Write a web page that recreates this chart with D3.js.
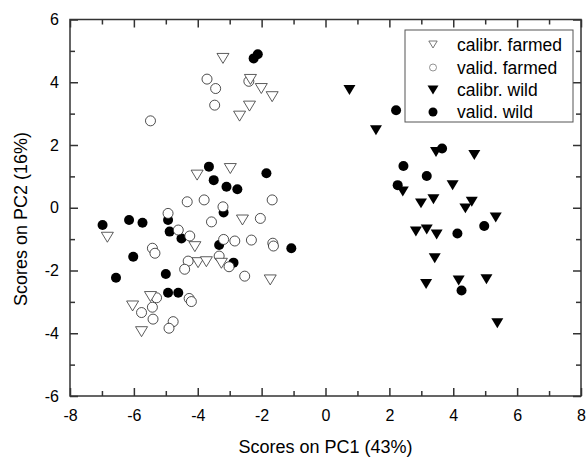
<!DOCTYPE html>
<html>
<head>
<meta charset="utf-8">
<script src="https://cdn.jsdelivr.net/npm/d3@7"></script>
<style>
  body { margin: 0; background: #fff; }
  text { font-family: Arial, "Liberation Sans", sans-serif; fill: #000; }
</style>
</head>
<body>
<div id="chart"></div>
<script>
// PCA scores: [PC1, PC2]
const calibrFarmed = [
  [-3.21, 4.76], [-2.35, 4.09], [-2.01, 3.80], [-1.67, 3.54], [-2.38, 3.24], [-2.69, 2.92],
  [-4.02, 1.04], [-2.98, 1.25], [-2.60, -0.39], [-6.83, -0.94], [-4.09, -1.24], [-3.99, -1.75],
  [-3.73, -1.72], [-3.26, -1.77], [-1.73, -2.30], [-6.04, -3.13], [-5.48, -2.83], [-5.76, -3.95]
];
const validFarmed = [
  [-3.71, 4.10], [-3.44, 3.80], [-3.47, 3.27], [-5.48, 2.77], [-2.40, 4.03], [-4.33, 0.19],
  [-3.80, 0.25], [-3.21, 0.03], [-1.67, 0.25], [-3.57, -0.45], [-2.04, -0.34], [-4.93, -0.18],
  [-5.42, -1.29], [-5.34, -1.45], [-4.61, -0.71], [-4.25, -0.90], [-3.19, -1.01], [-2.84, -1.06],
  [-2.32, -1.03], [-1.65, -1.13], [-1.63, -1.22], [-3.33, -1.54], [-4.30, -1.70], [-3.02, -1.88],
  [-4.41, -1.96], [-2.53, -2.18], [-4.27, -2.89], [-4.20, -2.99], [-5.29, -2.87], [-5.42, -3.17],
  [-5.76, -3.34], [-5.40, -3.55], [-4.77, -3.63], [-4.90, -3.84]
];
const calibrWild = [
  [0.75, 3.75], [1.58, 2.47], [3.46, 1.78], [4.66, 1.68], [3.98, 0.72], [2.42, 0.52],
  [2.99, 0.14], [3.38, 0.27], [4.38, -0.02], [4.58, 0.19], [5.33, -0.31], [2.83, -0.76],
  [3.17, -0.69], [3.48, -0.85], [3.42, -1.61], [3.15, -2.43], [4.17, -2.32], [5.04, -2.28],
  [5.38, -3.68]
];
const validWild = [
  [-2.25, 4.76], [-2.12, 4.89], [-3.65, 1.31], [-3.50, 0.88], [-3.10, 0.67], [-2.76, 0.59],
  [-1.85, 1.10], [-3.19, -0.15], [-4.93, -0.39], [-6.98, -0.55], [-6.15, -0.39], [-5.73, -0.48],
  [-6.02, -1.56], [-6.56, -2.23], [-4.88, -0.76], [-4.51, -0.98], [-3.33, -1.19], [-1.07, -1.29],
  [-2.88, -1.75], [-5.00, -2.11], [-4.93, -2.71], [-4.61, -2.71], [2.21, 3.11], [3.65, 1.89],
  [2.44, 1.33], [3.17, 1.01], [2.26, 0.72], [4.97, -0.58], [4.13, -0.82], [4.26, -2.64]
];

const legendLabels = ["calibr. farmed", "valid. farmed", "calibr. wild", "valid. wild"];
const xMajor = [-8, -6, -4, -2, 0, 2, 4, 6, 8];
const yMajor = [-6, -4, -2, 0, 2, 4, 6];
const xMinor = d3.range(-7, 8, 2);
const yMinor = d3.range(-5, 6, 2);

const width = 588, height = 457;
const margin = { top: 19.5, right: 7, bottom: 61, left: 70 };

const svg = d3.select("#chart").append("svg")
  .attr("width", width).attr("height", height);

const x = d3.scaleLinear().domain([-8, 8]).range([margin.left, width - margin.right]);
const y = d3.scaleLinear().domain([-6, 6]).range([height - margin.bottom, margin.top]);

const frameColor = "#333";

// ticks on all four sides, pointing inward
function drawAxis(axis, tx, ty, labels) {
  const g = svg.append("g").attr("transform", `translate(${tx},${ty})`).call(axis);
  g.select(".domain").remove();
  g.selectAll(".tick line").attr("stroke", frameColor).attr("stroke-width", 1.5);
  g.selectAll("text").attr("font-size", 16).attr("font-family", "Arial, 'Liberation Sans', sans-serif");
  if (!labels) g.selectAll("text").remove();
  return g;
}
const x0 = height - margin.bottom, x1 = margin.top;
const y0 = margin.left, y1 = width - margin.right;

drawAxis(d3.axisBottom(x).tickValues(xMajor).tickSize(-8).tickPadding(14).tickFormat(d3.format("d")), 0, x0, true);
drawAxis(d3.axisBottom(x).tickValues(xMinor).tickSize(-5), 0, x0, false);
drawAxis(d3.axisTop(x).tickValues(xMajor).tickSize(-8), 0, x1, false);
drawAxis(d3.axisTop(x).tickValues(xMinor).tickSize(-5), 0, x1, false);
drawAxis(d3.axisLeft(y).tickValues(yMajor).tickSize(-8).tickPadding(11).tickFormat(d3.format("d")), y0, 0, true);
drawAxis(d3.axisLeft(y).tickValues(yMinor).tickSize(-5), y0, 0, false);
drawAxis(d3.axisRight(y).tickValues(yMajor).tickSize(-8), y1, 0, false);
drawAxis(d3.axisRight(y).tickValues(yMinor).tickSize(-5), y1, 0, false);

// use a proper minus sign look like the reference (hyphen)
svg.selectAll(".tick text").text(function () { return this.textContent.replace("−", "-"); });

svg.append("rect")
  .attr("x", x(-8)).attr("y", y(6))
  .attr("width", x(8) - x(-8)).attr("height", y(-6) - y(6))
  .attr("fill", "none").attr("stroke", frameColor).attr("stroke-width", 1.5);

// marker shapes
const triDown = s => `M${-s},${-s * 0.83}L${s},${-s * 0.83}L0,${s * 0.83}Z`;

const marks = svg.append("g");

marks.selectAll(".vw").data(validWild).join("circle")
  .attr("cx", d => x(d[0])).attr("cy", d => y(d[1])).attr("r", 5)
  .attr("fill", "#000");

marks.selectAll(".cw").data(calibrWild).join("path")
  .attr("transform", d => `translate(${x(d[0])},${y(d[1])})`)
  .attr("d", triDown(6)).attr("fill", "#000");

marks.selectAll(".vf").data(validFarmed).join("circle")
  .attr("cx", d => x(d[0])).attr("cy", d => y(d[1])).attr("r", 5)
  .attr("fill", "#fff").attr("stroke", "#222").attr("stroke-width", 0.8);

marks.selectAll(".cf").data(calibrFarmed).join("path")
  .attr("transform", d => `translate(${x(d[0])},${y(d[1])})`)
  .attr("d", triDown(6)).attr("fill", "#fff").attr("stroke", "#333").attr("stroke-width", 0.8);

// legend
const legend = svg.append("g");
legend.append("rect")
  .attr("x", 405).attr("y", 30).attr("width", 168).attr("height", 92)
  .attr("fill", "#fff").attr("stroke", "#555").attr("stroke-width", 1);

const rowY = [44.5, 67.5, 90, 112];
const symX = 433;
legend.append("path").attr("transform", `translate(${symX},${rowY[0]})`)
  .attr("d", triDown(4.2)).attr("fill", "#fff").attr("stroke", "#555").attr("stroke-width", 0.8);
legend.append("circle").attr("cx", symX).attr("cy", rowY[1]).attr("r", 3.5)
  .attr("fill", "#fff").attr("stroke", "#777").attr("stroke-width", 0.8);
legend.append("path").attr("transform", `translate(${symX},${rowY[2]})`)
  .attr("d", triDown(5.5)).attr("fill", "#000");
legend.append("circle").attr("cx", symX).attr("cy", rowY[3]).attr("r", 4.5).attr("fill", "#000");

legend.selectAll(".lt").data(legendLabels).join("text")
  .attr("x", 457).attr("y", (d, i) => rowY[i]).attr("dy", "0.35em")
  .attr("font-size", 17.5).text(d => d);

// axis titles
svg.append("text")
  .attr("x", 325.5).attr("y", 453)
  .attr("text-anchor", "middle").attr("font-size", 18)
  .text("Scores on PC1 (43%)");

svg.append("text")
  .attr("transform", "translate(27,219) rotate(-90)")
  .attr("text-anchor", "middle").attr("font-size", 18)
  .text("Scores on PC2 (16%)");
</script>
</body>
</html>
